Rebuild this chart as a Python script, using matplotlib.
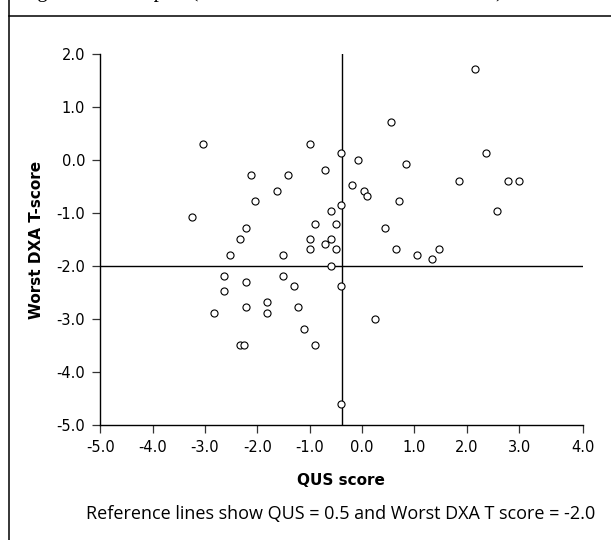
import matplotlib
matplotlib.use("Agg")
import matplotlib.pyplot as plt
from matplotlib.lines import Line2D

# ---- data ----
qus_score = [-3.04, -1.00, -0.40, -0.07, -0.71, -2.12, -1.41, -0.19, 0.03, 0.10,
             -1.62, -2.04, 0.70, -3.24, -0.40, -0.60, -0.89, -0.50, -2.22, 0.43,
             -2.33, -1.00, -0.60, -0.71, -1.00, -0.50, 0.64, -2.52, -1.51, -0.60,
             -2.64, -1.51, -2.22, -1.30, -0.40, -2.64, -1.81, -2.22, -1.23, -2.83,
             -1.81, 0.24, -1.11, -2.33, -2.25, -0.90, -0.40, 2.15, 0.55, 2.36,
             0.83, 1.86, 2.78, 2.99, 2.57, 1.04, 1.34, 1.46]
dxa_tscore = [0.31, 0.31, 0.13, 0.00, -0.18, -0.29, -0.29, -0.47, -0.58, -0.68,
              -0.58, -0.77, -0.77, -1.08, -0.84, -0.97, -1.20, -1.20, -1.28, -1.28,
              -1.49, -1.49, -1.49, -1.59, -1.67, -1.67, -1.67, -1.80, -1.80, -2.00,
              -2.19, -2.19, -2.30, -2.38, -2.38, -2.48, -2.68, -2.78, -2.78, -2.89,
              -2.89, -3.00, -3.18, -3.49, -3.49, -3.49, -4.60, 1.71, 0.72, 0.13,
              -0.08, -0.40, -0.40, -0.40, -0.97, -1.80, -1.87, -1.67]
ref_qus = -0.39
ref_dxa = -2.0
x_ticks = [-5, -4, -3, -2, -1, 0, 1, 2, 3, 4.21]
x_tick_labels = ["-5.0", "-4.0", "-3.0", "-2.0", "-1.0", "0.0", "1.0", "2.0", "3.0", "4.0"]
y_ticks = [2, 1, 0, -1, -2, -3, -4, -5]
y_tick_labels = ["2.0", "1.0", "0.0", "-1.0", "-2.0", "-3.0", "-4.0", "-5.0"]
title_text = "Figure 1 Scatterplot (Worst DXA T-score and QUS score)"
caption = "Reference lines show QUS = 0.5 and Worst DXA T score = -2.0"

W, H = 611, 540
fig = plt.figure(figsize=(W / 100, H / 100), dpi=100)
ax = fig.add_axes([100.3 / W, 1 - 425 / H, (582.5 - 100.3) / W, (425 - 54) / H])

ax.scatter(qus_score, dxa_tscore, s=26, facecolors="white", edgecolors="black",
           linewidths=0.8, zorder=3)
ax.axvline(ref_qus, color="black", lw=1.0, zorder=2)
ax.axhline(ref_dxa, color="black", lw=1.0, zorder=2)

ax.set_xlim(-5, 4.21)
ax.set_ylim(-5, 2)
ax.set_xticks(x_ticks)
ax.set_xticklabels(x_tick_labels)
ax.set_yticks(y_ticks)
ax.set_yticklabels(y_tick_labels)
for s in ["top", "right"]:
    ax.spines[s].set_visible(False)
for s in ["left", "bottom"]:
    ax.spines[s].set_linewidth(1.0)
ax.tick_params(direction="out", length=6, width=0.9, color="#333333",
               labelsize=10.5, pad=5)
for lab in ax.get_xticklabels() + ax.get_yticklabels():
    lab.set_family("DejaVu Sans")

ax.set_xlabel("QUS score", fontsize=11, fontweight="bold", family="DejaVu Sans",
              labelpad=13)
ax.set_ylabel("Worst DXA T-score", fontsize=11, fontweight="bold", family="DejaVu Sans",
              labelpad=9)

fig.text(341 / W, 1 - 514 / H, caption, ha="center", va="center",
         fontsize=13, family="Open Sans")
fig.text(20 / W, 1 + 3.5 / H, title_text, ha="left", va="baseline",
         fontsize=15, family="Liberation Serif")

fig.add_artist(Line2D([9 / W, 9 / W], [0, 1], color="black", lw=1.1,
                      transform=fig.transFigure))
fig.add_artist(Line2D([9 / W, 1], [1 - 16 / H, 1 - 16 / H], color="black", lw=1.1,
                      transform=fig.transFigure))

fig.savefig("out.png", dpi=100)
